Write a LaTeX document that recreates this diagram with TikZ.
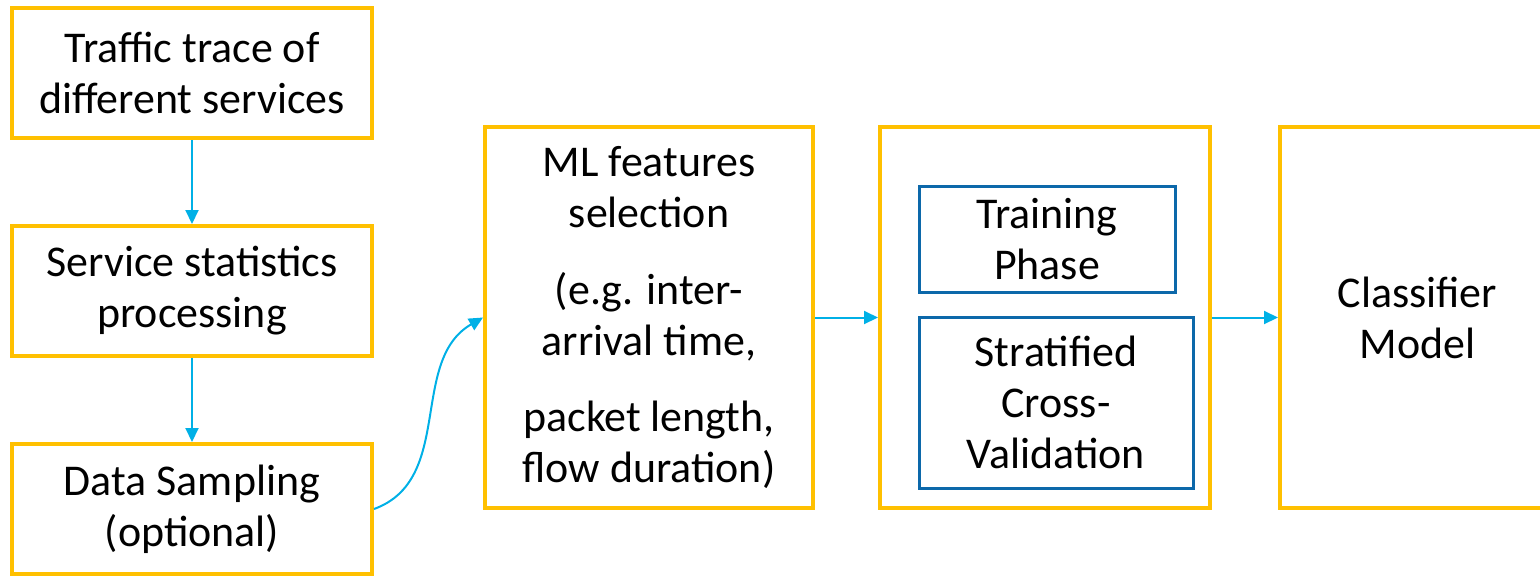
\documentclass[tikz,border=0pt]{standalone}
\usepackage{fontspec}
\setmainfont{Carlito}
\usetikzlibrary{positioning,arrows.meta}
\definecolor{boxyellow}{RGB}{255,192,0}
\definecolor{boxblue}{RGB}{12,104,170}
\definecolor{flowcyan}{RGB}{0,176,230}

\begin{document}
\begin{tikzpicture}[
    nodes={align=center, inner sep=0pt, font=\fontsize{25}{29}\selectfont},
    stage/.style={%
        draw=boxyellow, line width=0.08cm, fill=white},
    source/.style={%
        stage, minimum width=7.2cm, minimum height=2.6cm},
    method/.style={%
        draw=boxblue, line width=0.06cm},
    flow/.style={%
        draw=flowcyan, line width=0.04cm,
        -{Triangle[length=0.28cm,width=0.26cm]}},
    node distance=1.68cm,
]
    \useasboundingbox (0,0) rectangle (30.8,-11.54);
    % Data preparation
    \node [source] (trace) at (3.84,-1.46) {Traffic trace of\\different services};
    \node [source, below=of trace] (stats) {Service statistics\\processing};
    \node [source, below=of stats] (sampling) {Data Sampling\\(optional)};
    % Features
    \node [stage, minimum width=6.56cm, minimum height=7.62cm] (features) at (12.98,-6.35)
        {ML features\\selection\\[0.52cm](e.g. inter-\\arrival time,\\[0.52cm]packet length,\\flow duration)};
    % Training and validation
    \node [stage, minimum width=6.6cm, minimum height=7.62cm, right=1.26cm of features] (training) {};
    \node [method, minimum width=5.12cm, minimum height=2.12cm] (trainphase) at (20.94,-4.78) {Training\\Phase};
    \node [method, minimum width=5.48cm, minimum height=3.42cm] (crossval) at (21.12,-8.05) {Stratified\\Cross-\\Validation};
    % Result
    \node [stage, minimum width=5.5cm, minimum height=7.62cm, right=1.32cm of training] (classifier) {Classifier\\Model};
    % Connectors
    \draw [flow] (trace) -- (stats);
    \draw [flow] (stats) -- (sampling);
    \draw [flow] (sampling.east) to[out=20, in=210] (features.west);
    \draw [flow] (features) -- (training);
    \draw [flow] (training) -- (classifier);
\end{tikzpicture}
\end{document}
